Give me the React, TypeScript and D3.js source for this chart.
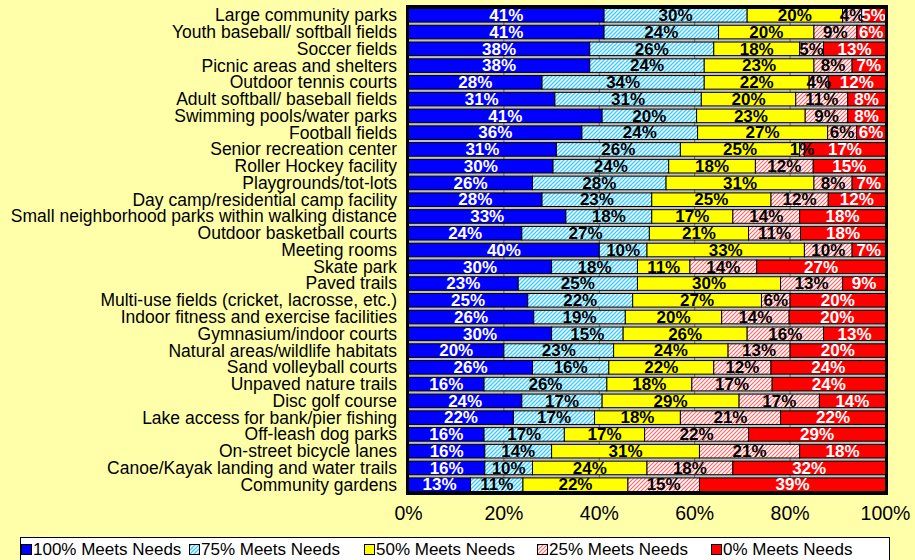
import React from "react";
import * as d3 from "d3";

const categories = [
  "Large community parks",
  "Youth baseball/ softball fields",
  "Soccer fields",
  "Picnic areas and shelters",
  "Outdoor tennis courts",
  "Adult softball/ baseball fields",
  "Swimming pools/water parks",
  "Football fields",
  "Senior recreation center",
  "Roller Hockey facility",
  "Playgrounds/tot-lots",
  "Day camp/residential camp facility",
  "Small neighborhood parks within walking distance",
  "Outdoor basketball courts",
  "Meeting rooms",
  "Skate park",
  "Paved trails",
  "Multi-use fields (cricket, lacrosse, etc.)",
  "Indoor fitness and exercise facilities",
  "Gymnasium/indoor courts",
  "Natural areas/wildlife habitats",
  "Sand volleyball courts",
  "Unpaved nature trails",
  "Disc golf course",
  "Lake access for bank/pier fishing",
  "Off-leash dog parks",
  "On-street bicycle lanes",
  "Canoe/Kayak landing and water trails",
  "Community gardens",
];

const meets100 = [41, 41, 38, 38, 28, 31, 41, 36, 31, 30, 26, 28, 33, 24, 40, 30, 23, 25, 26, 30, 20, 26, 16, 24, 22, 16, 16, 16, 13];
const meets75 = [30, 24, 26, 24, 34, 31, 20, 24, 26, 24, 28, 23, 18, 27, 10, 18, 25, 22, 19, 15, 23, 16, 26, 17, 17, 17, 14, 10, 11];
const meets50 = [20, 20, 18, 23, 22, 20, 23, 27, 25, 18, 31, 25, 17, 21, 33, 11, 30, 27, 20, 26, 24, 22, 18, 29, 18, 17, 31, 24, 22];
const meets25 = [4, 9, 5, 8, 4, 11, 9, 6, 1, 12, 8, 12, 14, 11, 10, 14, 13, 6, 14, 16, 13, 12, 17, 17, 21, 22, 21, 18, 15];
const meets0 = [5, 6, 13, 7, 12, 8, 8, 6, 17, 15, 7, 12, 18, 18, 7, 27, 9, 20, 20, 13, 20, 24, 24, 14, 22, 29, 18, 32, 39];

const seriesNames = ["100% Meets Needs", "75% Meets Needs", "50% Meets Needs", "25% Meets Needs", "0% Meets Needs"];
const xTicks = [0, 0.2, 0.4, 0.6, 0.8, 1];

const seriesValues = [meets100, meets75, meets50, meets25, meets0];
const fills = ["#0000FF", "url(#hatchBlue)", "#FFFF00", "url(#hatchPink)", "#FF0000"];
const labelColors = ["#FFFFFF", "#000000", "#000000", "#000000", "#FFFFFF"];
const legendX = [21, 189, 364, 537, 711];

const FONT = "'Liberation Sans', Arial, sans-serif";

export default function App() {
  const W = 915;
  const H = 560;
  const x = d3.scaleLinear().domain([0, 1]).range([408.5, 885.5]);
  const y = d3
    .scaleBand<string>()
    .domain(categories)
    .range([7, 493])
    .paddingInner(0.19)
    .paddingOuter(0.09);

  const rows = categories.map((c, i) => {
    const vals = seriesValues.map((s) => s[i]);
    const total = d3.sum(vals);
    let acc = 0;
    return vals.map((v, k) => {
      const x0 = acc / total;
      acc += v;
      const x1 = acc / total;
      return { cat: c, k, v, x0, x1 };
    });
  });

  const bh = y.bandwidth();

  return (
    <svg
      width={W}
      height={H}
      style={{ position: "absolute", left: 0, top: 0, fontFamily: FONT }}
    >
      <defs>
        <pattern id="hatchBlue" patternUnits="userSpaceOnUse" width="4" height="4">
          <rect width="4" height="4" fill="#FFFFFF" />
          <path d="M-1,1 L1,-1 M0,4 L4,0 M3,5 L5,3" stroke="#33CCFF" strokeWidth="1.3" />
        </pattern>
        <pattern id="hatchPink" patternUnits="userSpaceOnUse" width="4" height="4">
          <rect width="4" height="4" fill="#FFFFFF" />
          <path d="M-1,1 L1,-1 M0,4 L4,0 M3,5 L5,3" stroke="#FF6666" strokeWidth="1.2" />
        </pattern>
      </defs>
      <rect width={W} height={H} fill="#FFFFAA" />
      {/* plot background */}
      <rect x={x(0)} y={7} width={x(1) - x(0)} height={486} fill="#C0C0C0" />
      {xTicks.map((t) => (
        <line key={t} x1={x(t)} x2={x(t)} y1={7} y2={493} stroke="#606060" strokeWidth={1} />
      ))}
      {rows.map((segs, i) => (
        <g key={categories[i]}>
          {segs.map((s) => (
            <rect
              key={s.k}
              x={x(s.x0)}
              y={y(s.cat)!}
              width={x(s.x1) - x(s.x0)}
              height={bh}
              fill={fills[s.k]}
              stroke="#000000"
              strokeWidth={1}
            />
          ))}
        </g>
      ))}
      {rows.map((segs, i) => (
        <g key={"l" + categories[i]}>
          {segs.map((s) => (
            <text
              key={s.k}
              x={(x(s.x0) + x(s.x1)) / 2}
              y={y(s.cat)! + bh / 2}
              dy="0.34em"
              textAnchor="middle"
              fontSize={17}
              fontWeight="bold"
              fill={labelColors[s.k]}
            >
              {s.v}%
            </text>
          ))}
        </g>
      ))}
      <rect x={407.5} y={6.5} width={479} height={487} fill="none" stroke="#000000" strokeWidth={3} />
      {categories.map((c) => (
        <text
          key={c}
          x={397}
          y={y(c)! + bh / 2}
          dy="0.34em"
          textAnchor="end"
          fontSize={17.5}
          fill="#000000"
        >
          {c}
        </text>
      ))}
      {xTicks.map((t) => (
        <text key={"t" + t} x={x(t)} y={513} dy="0.35em" textAnchor="middle" fontSize={19.5} fill="#000000">
          {d3.format(".0%")(t)}
        </text>
      ))}
      <rect x={20.5} y={537.5} width={869} height={30} fill="#FFFFFF" stroke="#000000" strokeWidth={1} />
      {seriesNames.map((n, k) => (
        <g key={n}>
          <rect x={legendX[k] + 0.5} y={544.5} width={10} height={10} fill={fills[k]} stroke="#000000" strokeWidth={1} />
          <text x={legendX[k] + 12} y={549.5} dy="0.35em" fontSize={17} fill="#000000">
            {n}
          </text>
        </g>
      ))}
    </svg>
  );
}
